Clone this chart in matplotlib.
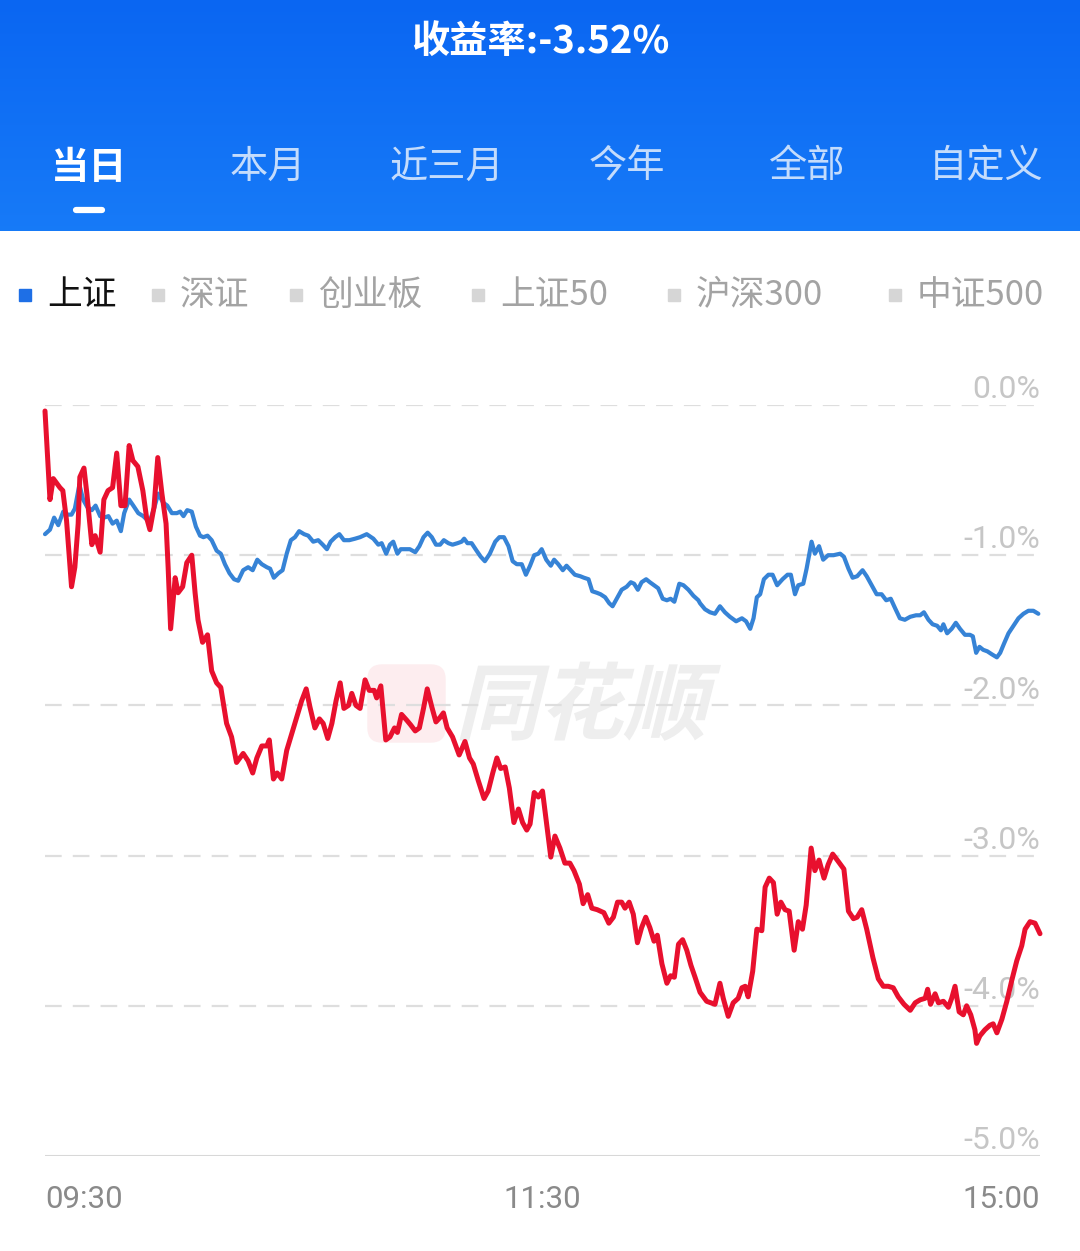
import matplotlib
matplotlib.use("Agg")
import matplotlib.pyplot as plt
import numpy as np
from matplotlib.patches import Rectangle, FancyBboxPatch, PathPatch
from matplotlib.lines import Line2D
from matplotlib.textpath import TextPath
from matplotlib.font_manager import FontProperties
from matplotlib.transforms import Affine2D, IdentityTransform

plt.rcParams['font.family'] = ['Noto Sans CJK SC', 'DejaVu Sans']

# minutes since 09:30 (240 trading minutes), returns in %
red_t = [0, 1.2, 2.0, 2.8, 3.6, 4.3, 5.2, 6.4, 7.2, 8.0, 8.4, 9.4, 10.1, 11.3, 12.1, 13.3,
         14.2, 15.2, 16.3, 17.3, 18.3, 19.3, 20.3, 21.2, 22.4, 23.6, 24.5, 25.3, 26.3, 27.2,
         28.2, 29.2, 29.7, 30.3, 31.4, 32.1, 33.2, 34.2, 35.4, 36.2, 36.9, 38.0, 39.2, 40.2,
         41.4, 42.4, 43.8, 45.0, 46.2, 47.8, 49.0, 50.1, 51.1, 52.3, 53.5, 54.1, 55.1, 56.0,
         57.1, 58.3, 59.5, 60.7, 61.9, 63.0, 63.9, 65.1, 66.2, 67.1, 68.2, 69.2, 70.2, 71.2,
         72.1, 73.2, 74.0, 75.0, 76.0, 77.2, 78.2, 79.4, 80.0, 81.0, 82.2, 83.2, 84.3, 85.0,
         86.0, 87.3, 88.2, 89.3, 90.3, 91.3, 92.2, 93.3, 94.3, 95.3, 96.1, 97.0, 98.3, 99.9,
         101.3, 102.4, 103.3, 104.5, 105.9, 106.9, 108.0, 109.0, 109.9, 111.0, 112.0, 113.1,
         114.2, 115.2, 116.2, 117.0, 118.0, 119.0, 120.0, 121.0, 122.0, 123.0, 124.2, 125.4,
         126.6, 127.6, 128.9, 129.8, 130.9, 131.9, 133.2, 134.8, 136.0, 137.1, 138.1, 139.1,
         139.9, 140.9, 141.9, 142.9, 143.9, 144.9, 145.9, 146.9, 147.7, 148.8, 150.0, 150.9,
         151.8, 152.8, 153.8, 154.8, 155.8, 156.8, 158.0, 159.6, 161.6, 162.8, 163.6, 164.8,
         166.0, 167.2, 168.1, 168.9, 169.6, 170.7, 171.7, 172.9, 173.7, 174.7, 175.7, 176.6,
         177.5, 178.5, 179.5, 180.7, 181.7, 182.7, 183.6, 184.8, 185.7, 186.7, 187.9, 188.9,
         190.0, 191.1, 192.7, 193.8, 195.0, 195.9, 197.0, 198.2, 199.7, 201.0, 202.2, 203.4,
         204.6, 205.8, 207.2, 208.7, 209.9, 211.1, 212.3, 212.9, 213.6, 214.7, 215.5, 216.7,
         217.9, 218.7, 219.5, 220.5, 221.5, 222.3, 223.3, 224.3, 224.7, 225.5, 226.7, 227.9,
         228.7, 229.6, 230.8, 232.0, 233.2, 234.4, 235.6, 236.4, 237.6, 238.8, 240.0]
red_v = [-0.04, -0.63, -0.49, -0.52, -0.55, -0.57, -0.77, -1.21, -1.08, -0.79, -0.48, -0.42,
         -0.59, -0.93, -0.87, -0.98, -0.63, -0.57, -0.55, -0.32, -0.67, -0.67, -0.27, -0.37,
         -0.41, -0.57, -0.75, -0.83, -0.68, -0.35, -0.59, -0.79, -1.08, -1.49, -1.15, -1.25,
         -1.21, -1.05, -1.00, -1.25, -1.43, -1.58, -1.53, -1.77, -1.85, -1.88, -2.12, -2.21,
         -2.38, -2.32, -2.37, -2.45, -2.35, -2.27, -2.27, -2.23, -2.49, -2.45, -2.49, -2.30,
         -2.19, -2.08, -1.97, -1.89, -2.01, -2.15, -2.09, -2.12, -2.22, -2.12, -1.97, -1.85,
         -2.02, -2.00, -1.92, -2.00, -2.02, -1.83, -1.90, -1.90, -1.95, -1.87, -2.23, -2.21,
         -2.15, -2.18, -2.06, -2.10, -2.13, -2.17, -2.15, -2.02, -1.89, -2.01, -2.11, -2.08,
         -2.05, -2.15, -2.21, -2.33, -2.24, -2.35, -2.39, -2.50, -2.62, -2.57, -2.45, -2.35,
         -2.42, -2.41, -2.55, -2.78, -2.69, -2.78, -2.83, -2.79, -2.58, -2.61, -2.57, -2.79,
         -3.01, -2.87, -2.95, -3.05, -3.05, -3.10, -3.19, -3.32, -3.26, -3.35, -3.36, -3.38,
         -3.45, -3.41, -3.31, -3.31, -3.35, -3.31, -3.39, -3.58, -3.48, -3.41, -3.48, -3.57,
         -3.53, -3.72, -3.85, -3.80, -3.81, -3.59, -3.56, -3.63, -3.73, -3.81, -3.91, -3.97,
         -3.99, -3.85, -3.95, -4.07, -3.98, -3.95, -3.88, -3.87, -3.94, -3.77, -3.49, -3.50,
         -3.21, -3.15, -3.18, -3.39, -3.31, -3.36, -3.37, -3.63, -3.44, -3.49, -3.33, -2.95,
         -3.10, -3.03, -3.15, -3.06, -2.99, -3.03, -3.09, -3.37, -3.42, -3.41, -3.36, -3.49,
         -3.68, -3.82, -3.87, -3.87, -3.88, -3.94, -3.99, -4.03, -3.98, -3.96, -3.95, -3.89,
         -3.99, -3.92, -3.98, -3.97, -4.01, -3.95, -3.87, -4.04, -4.06, -4.00, -4.06, -4.16,
         -4.25, -4.20, -4.16, -4.13, -4.12, -4.18, -4.09, -3.97, -3.83, -3.70, -3.60, -3.49,
         -3.44, -3.45, -3.52]

blue_t = [0, 1.2, 2.2, 3.2, 4.4, 5.5, 6.4, 7.2, 8.3, 9.2, 10.2, 11.3, 12.2, 13.3, 14.2, 15.3,
          16.3, 17.3, 18.3, 19.1, 20.3, 21.3, 22.5, 23.7, 25.2, 26.3, 27.3, 28.5, 29.5, 30.6,
          31.8, 32.6, 33.4, 34.3, 35.4, 36.4, 37.4, 38.2, 39.2, 40.2, 41.4, 42.4, 43.4, 44.5,
          45.6, 46.6, 47.8, 49.0, 50.1, 51.2, 52.3, 53.5, 54.3, 55.2, 56.3, 57.3, 58.3, 59.3,
          60.3, 61.3, 62.5, 63.5, 64.7, 65.9, 67.0, 68.0, 68.9, 70.0, 71.0, 72.1, 73.4, 74.8,
          76.0, 77.6, 79.2, 80.4, 81.2, 82.3, 83.2, 84.0, 85.0, 85.8, 87.3, 88.0, 89.3, 90.3,
          91.3, 92.3, 93.3, 94.3, 95.3, 96.2, 97.3, 98.3, 99.5, 100.5, 101.1, 101.9, 102.9,
          104.1, 105.1, 106.1, 107.3, 108.6, 109.6, 110.7, 111.8, 112.8, 113.8, 115.0, 116.0,
          117.0, 118.0, 119.0, 119.8, 120.9, 122.0, 122.8, 123.8, 124.9, 125.8, 126.8, 127.8,
          129.1, 130.0, 131.1, 132.0, 133.1, 134.0, 135.1, 136.1, 136.9, 138.1, 139.1, 140.3,
          141.3, 142.1, 143.0, 143.9, 145.0, 145.9, 146.9, 147.9, 149.0, 150.0, 150.9, 151.8,
          153.0, 154.0, 155.2, 156.4, 157.6, 158.0, 159.2, 160.4, 161.6, 162.8, 164.0, 165.2,
          166.7, 168.1, 169.1, 170.1, 170.9, 171.7, 172.5, 173.4, 174.5, 175.5, 176.6, 177.9,
          179.1, 179.9, 180.9, 181.7, 182.9, 183.7, 184.9, 185.7, 186.7, 187.7, 188.9, 190.2,
          191.8, 192.7, 193.8, 194.8, 195.9, 197.2, 198.2, 199.4, 200.6, 201.8, 202.9, 204.0,
          205.0, 206.2, 207.4, 208.7, 210.1, 211.1, 212.0, 213.1, 214.1, 215.2, 216.1, 216.7,
          217.6, 218.7, 219.7, 220.7, 221.9, 223.1, 223.8, 224.6, 225.4, 226.3, 227.3, 228.4,
          229.6, 230.4, 231.3, 232.4, 233.6, 234.8, 236.0, 237.2, 238.4, 239.6]
blue_v = [-0.86, -0.83, -0.75, -0.80, -0.71, -0.73, -0.73, -0.69, -0.53, -0.63, -0.68, -0.70,
          -0.67, -0.74, -0.75, -0.74, -0.79, -0.77, -0.84, -0.72, -0.63, -0.67, -0.72, -0.74,
          -0.78, -0.69, -0.59, -0.65, -0.67, -0.72, -0.72, -0.71, -0.74, -0.70, -0.71, -0.81,
          -0.87, -0.88, -0.87, -0.90, -0.97, -0.99, -1.06, -1.12, -1.16, -1.17, -1.10, -1.08,
          -1.10, -1.03, -1.06, -1.08, -1.09, -1.15, -1.12, -1.10, -0.99, -0.90, -0.88, -0.84,
          -0.86, -0.87, -0.91, -0.90, -0.93, -0.96, -0.91, -0.88, -0.86, -0.90, -0.90, -0.89,
          -0.88, -0.86, -0.89, -0.93, -0.92, -0.99, -0.93, -0.91, -0.99, -0.96, -0.96, -0.96,
          -0.98, -0.94, -0.88, -0.85, -0.88, -0.93, -0.93, -0.90, -0.92, -0.93, -0.92, -0.91,
          -0.89, -0.92, -0.92, -0.97, -1.01, -1.04, -0.99, -0.91, -0.88, -0.88, -0.94, -1.04,
          -1.06, -1.06, -1.13, -1.07, -1.00, -0.99, -0.96, -1.03, -1.07, -1.03, -1.06, -1.10,
          -1.07, -1.10, -1.13, -1.14, -1.15, -1.16, -1.24, -1.25, -1.26, -1.28, -1.32, -1.34,
          -1.28, -1.23, -1.21, -1.18, -1.19, -1.23, -1.18, -1.16, -1.18, -1.20, -1.22, -1.29,
          -1.30, -1.29, -1.31, -1.19, -1.20, -1.23, -1.27, -1.30, -1.32, -1.36, -1.38, -1.39,
          -1.34, -1.38, -1.41, -1.44, -1.42, -1.44, -1.49, -1.42, -1.28, -1.26, -1.16, -1.13,
          -1.13, -1.20, -1.16, -1.13, -1.13, -1.26, -1.20, -1.19, -1.09, -0.91, -0.99, -0.94,
          -1.03, -1.00, -1.00, -0.99, -1.01, -1.09, -1.15, -1.14, -1.10, -1.14, -1.20, -1.26,
          -1.26, -1.30, -1.29, -1.35, -1.42, -1.43, -1.41, -1.40, -1.40, -1.38, -1.43, -1.46,
          -1.47, -1.50, -1.46, -1.52, -1.49, -1.45, -1.49, -1.53, -1.53, -1.54, -1.65, -1.61,
          -1.63, -1.64, -1.66, -1.68, -1.65, -1.59, -1.52, -1.47, -1.42, -1.39, -1.37, -1.37,
          -1.39]

y_ticks = [0.0, -1.0, -2.0, -3.0, -4.0, -5.0]
x_ticks = [0, 120, 240]
x_labels = ['09:30', '11:30', '15:00']

title = '收益率:-3.52%'
tabs = ['当日', '本月', '近三月', '今年', '全部', '自定义']
tab_x = [89, 268, 447, 627, 807, 986]
legend_names = ['上证', '深证', '创业板', '上证50', '沪深300', '中证500']
legend_x = [47, 180, 318, 500, 696, 917]

W, H = 1080, 1251


def fx(x):
    return x / W


def fy(y):
    return 1 - y / H


fig = plt.figure(figsize=(W / 100, H / 100), dpi=100)
fig.patch.set_facecolor('white')

# blue header with gradient
hdr = fig.add_axes([0, fy(231), 1, 231 / H])
grad = np.linspace(0, 1, 256).reshape(-1, 1)
top = np.array([0.04, 0.40, 0.95])
bot = np.array([0.09, 0.48, 0.97])
img = top + (bot - top) * grad[:, :, None]
hdr.imshow(img, aspect='auto', extent=[0, 1, 0, 1])
hdr.axis('off')

fig.text(0.5, fy(42), title, color='white', fontsize=27.5, fontweight='bold',
         ha='center', va='center')
for i, (name, x) in enumerate(zip(tabs, tab_x)):
    fig.text(fx(x), fy(167), name, ha='center', va='center', fontsize=27.5,
             color='white' if i == 0 else '#c4dcfc',
             fontweight='bold' if i == 0 else 'normal')
fig.add_artist(Line2D([fx(76), fx(102)], [fy(210), fy(210)], color='white', lw=4.5,
                      solid_capstyle='round', transform=fig.transFigure))

# legend row
for i, (name, x) in enumerate(zip(legend_names, legend_x)):
    sq = '#1e6fe6' if i == 0 else '#d6d6d6'
    fig.add_artist(Rectangle((fx(x - 28), fy(301)), 12 / W, 12 / H, color=sq,
                             transform=fig.transFigure))
    fig.text(fx(x), fy(296), name, ha='left', va='center', fontsize=25,
             color='#111111' if i == 0 else '#a3a3a3')

# chart
ax = fig.add_axes([fx(45), fy(1156), (1040 - 45) / W, (1156 - 405) / H])
ax.set_xlim(0, 240)
ax.set_ylim(-5, 0)
ax.axis('off')

for v in y_ticks[:-1]:
    ax.axhline(v, color='#dedede', lw=1.6, ls=(0, (7.5, 5)), zorder=1)
ax.axhline(-5, color='#d8d8d8', lw=2.2, zorder=1)
for v in y_ticks:
    ax.text(240, v + 0.045, f'{v:.1f}%', ha='right', va='baseline', fontsize=23,
            family='Roboto', color='#c6c6c6', zorder=1)

# watermark
wm = FancyBboxPatch((368, H - 742), 77, 77, boxstyle='round,pad=0,rounding_size=14',
                    transform=IdentityTransform(), color='#fdedef', zorder=0.5,
                    clip_on=False)
ax.add_patch(wm)
tp = TextPath((0, 0), '同花顺', size=84,
              prop=FontProperties(family='Noto Sans CJK SC', weight='bold'))
tr = Affine2D().skew_deg(14, 0).translate(455, H - 733) + IdentityTransform()
ax.add_patch(PathPatch(tp, transform=tr, color='#eeeeee', lw=0, zorder=0.6,
                       clip_on=False))

ax.plot(blue_t, blue_v, color='#3683d6', lw=3.0, solid_joinstyle='round',
        solid_capstyle='round', clip_on=False, zorder=3)
ax.plot(red_t, red_v, color='#e8102e', lw=3.6, solid_joinstyle='round',
        solid_capstyle='round', clip_on=False, zorder=4)

for t, lab, ha in zip(x_ticks, x_labels, ['left', 'center', 'right']):
    fig.text(fx(45 + t / 240 * 995), fy(1200), lab, ha=ha, va='center',
             fontsize=22.5, family='Roboto', color='#8a8a8a')

fig.savefig('out.png', dpi=100)
